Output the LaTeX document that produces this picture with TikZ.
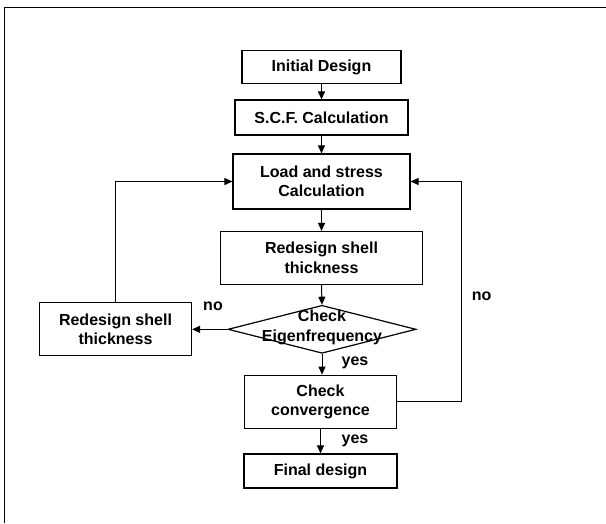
\documentclass[tikz,border=0pt]{standalone}
\usepackage{fontspec}
\setmainfont{Liberation Sans}
\usetikzlibrary{shapes.geometric,arrows.meta,positioning}

\begin{document}
\begin{tikzpicture}[x=1pt, y=-1pt,
    every node/.style={font=\bfseries\fontsize{16}{19.5}\selectfont},
    stepbox/.style={draw, line width=1.2pt, align=center, inner sep=0pt},
    decision/.style={draw, diamond, line width=1.2pt, inner sep=0pt, minimum width=188, minimum height=48},
    flow/.style={line width=1pt, -{Triangle[length=8pt,width=7pt]}}]
    \useasboundingbox (0,0) rectangle (606,523);
    \draw[line width=1.2pt] (4.5,523) -- (4.5,7.5) -- (606,7.5);

    \node[stepbox, minimum width=159, minimum height=33] (init) at (321.5,67) {Initial Design};
    \node[stepbox, minimum width=173, minimum height=35] (scf) at (321.5,117.5) {S.C.F. Calculation};
    \node[stepbox, minimum width=177, minimum height=55] (load) at (321.5,181.5) {Load and stress\\Calculation};
    \node[stepbox, minimum width=202, minimum height=53] (redesign) at (321.5,258) {Redesign shell\\thickness};
    \node[decision, label={[align=center, yshift=2pt]center:Check\\Eigenfrequency}] (eigen) at (322,329.3) {};
    \node[stepbox, minimum width=152, minimum height=53] (redesignl) at (115.5,329.3) {Redesign shell\\thickness};
    \node[stepbox, minimum width=152, minimum height=53] (conv) at (320.5,401.7) {Check\\convergence};
    \node[stepbox, minimum width=153, minimum height=34] (final) at (320.5,471) {Final design};
    \coordinate (rloop) at (461,401.7);

    \foreach \a/\b in {init/scf, scf/load, load/redesign, redesign/eigen}
        \draw[flow] (\a.south) -- (\b.north);
    \draw[flow] (eigen.south) -- (eigen.south |- conv.north);
    \draw[flow] (conv.south) -- (final.north);
    \draw[flow] (eigen.west) -- (redesignl.east);
    \draw[flow] (redesignl.north) |- (load.west);
    \draw[flow] (conv.east) -- (rloop) |- (load.east);

    \node (nol) at (213,306) {no};
    \node (nor) at (481.7,296.7) {no};
    \node (yese) at (355,362.7) {yes};
    \node (yesc) at (355,440.7) {yes};
\end{tikzpicture}
\end{document}
